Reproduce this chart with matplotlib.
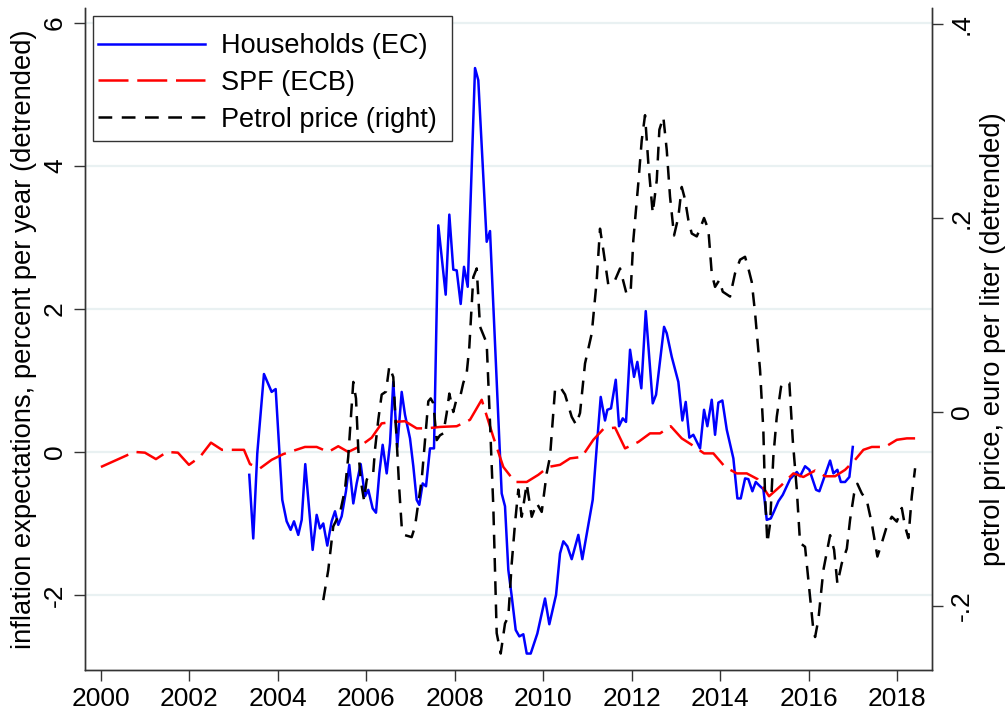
import matplotlib
matplotlib.use("Agg")
import matplotlib.pyplot as plt
from matplotlib.patches import Rectangle

plt.rcParams['font.family'] = ['Liberation Sans', 'DejaVu Sans']

# ---------------- data ----------------
# Households (EC) inflation expectations, detrended (left axis)
hh_year = [2003.354, 2003.444, 2003.535, 2003.686, 2003.860, 2003.951, 2004.100, 2004.199,
           2004.290, 2004.365, 2004.462, 2004.539, 2004.620, 2004.787, 2004.878, 2004.953,
           2005.027, 2005.118, 2005.217, 2005.292, 2005.366, 2005.443, 2005.540, 2005.615,
           2005.706, 2005.782, 2005.873, 2005.970, 2006.045, 2006.144, 2006.219, 2006.294,
           2006.370, 2006.461, 2006.536, 2006.610, 2006.701, 2006.800, 2006.875, 2006.988,
           2007.063, 2007.139, 2007.198, 2007.275, 2007.350, 2007.440, 2007.531, 2007.628,
           2007.795, 2007.877, 2007.967, 2008.044, 2008.134, 2008.209, 2008.293, 2008.458,
           2008.532, 2008.722, 2008.797, 2009.061, 2009.136, 2009.211, 2009.288, 2009.378,
           2009.460, 2009.550, 2009.627, 2009.717, 2009.867, 2010.041, 2010.138, 2010.290,
           2010.380, 2010.455, 2010.545, 2010.644, 2010.794, 2010.884, 2011.020, 2011.119,
           2011.210, 2011.300, 2011.397, 2011.450, 2011.533, 2011.640, 2011.714, 2011.798,
           2011.872, 2011.963, 2012.053, 2012.128, 2012.218, 2012.318, 2012.476, 2012.551,
           2012.732, 2012.793, 2012.906, 2013.055, 2013.146, 2013.222, 2013.304, 2013.394,
           2013.546, 2013.636, 2013.711, 2013.810, 2013.885, 2013.960, 2014.050, 2014.150,
           2014.299, 2014.390, 2014.466, 2014.564, 2014.638, 2014.729, 2014.805, 2014.903,
           2014.977, 2015.054, 2015.145, 2015.219, 2015.317, 2015.416, 2015.581, 2015.733,
           2015.807, 2015.920, 2016.018, 2016.169, 2016.244, 2016.486, 2016.561, 2016.651,
           2016.728, 2016.825, 2016.922, 2016.999]
hh_val = [-0.32, -1.21, -0.02, 1.09, 0.84, 0.88, -0.67, -0.97,
          -1.09, -0.97, -1.16, -0.95, -0.17, -1.37, -0.88, -1.07,
          -1.00, -1.31, -0.97, -0.83, -1.02, -0.90, -0.55, -0.18,
          -0.72, -0.44, -0.17, -0.62, -0.53, -0.79, -0.85, -0.30,
          0.10, -0.30, 0.12, 0.98, 0.07, 0.84, 0.52, 0.19,
          -0.20, -0.67, -0.74, -0.44, -0.48, 0.05, 0.05, 3.17,
          2.20, 3.32, 2.55, 2.54, 2.07, 2.59, 2.31, 5.37,
          5.20, 2.94, 3.09, -0.58, -0.76, -1.65, -2.02, -2.49,
          -2.58, -2.55, -2.82, -2.82, -2.54, -2.05, -2.41, -2.00,
          -1.42, -1.25, -1.32, -1.50, -1.16, -1.50, -1.02, -0.67,
          0.07, 0.77, 0.44, 0.59, 0.61, 1.01, 0.36, 0.47,
          0.42, 1.43, 1.05, 1.26, 0.89, 1.97, 0.68, 0.80,
          1.75, 1.66, 1.33, 0.98, 0.44, 0.70, 0.20, 0.24,
          0.05, 0.59, 0.36, 0.73, 0.24, 0.69, 0.72, 0.31,
          -0.09, -0.65, -0.65, -0.37, -0.38, -0.55, -0.42, -0.48,
          -0.52, -0.95, -0.93, -0.83, -0.69, -0.60, -0.38, -0.28,
          -0.34, -0.20, -0.25, -0.53, -0.55, -0.12, -0.30, -0.25,
          -0.42, -0.42, -0.35, 0.07]

# SPF (ECB) inflation expectations, detrended (left axis)
spf_year = [2000.000, 2000.611, 2000.769, 2000.995, 2001.244, 2001.493, 2001.741, 2001.990,
            2002.239, 2002.488, 2002.736, 2002.985, 2003.234, 2003.370, 2003.596, 2003.860,
            2004.123, 2004.613, 2004.878, 2005.140, 2005.366, 2005.592, 2005.857, 2006.122,
            2006.348, 2006.610, 2006.875, 2007.139, 2007.365, 2007.666, 2008.044, 2008.345,
            2008.609, 2008.871, 2009.098, 2009.362, 2009.627, 2009.889, 2010.115, 2010.380,
            2010.606, 2010.871, 2011.133, 2011.359, 2011.624, 2011.850, 2012.151, 2012.415,
            2012.641, 2012.883, 2013.132, 2013.358, 2013.636, 2013.847, 2014.111, 2014.376,
            2014.602, 2014.846, 2015.106, 2015.378, 2015.656, 2015.882, 2016.147, 2016.373,
            2016.599, 2016.825, 2017.051, 2017.239, 2017.429, 2017.730, 2017.995, 2018.221,
            2018.408]
spf_val = [-0.21, -0.04, 0.00, -0.01, -0.10, 0.00, -0.01, -0.18,
           -0.07, 0.13, 0.03, 0.03, 0.03, -0.17, -0.23, -0.11,
           -0.03, 0.07, 0.07, 0.00, 0.08, 0.00, 0.08, 0.20,
           0.40, 0.42, 0.43, 0.33, 0.33, 0.35, 0.36, 0.45,
           0.73, 0.21, -0.21, -0.42, -0.42, -0.32, -0.21, -0.18,
           -0.09, -0.07, 0.17, 0.32, 0.34, 0.05, 0.14, 0.26,
           0.26, 0.36, 0.19, 0.10, -0.02, -0.02, -0.21, -0.30,
           -0.30, -0.38, -0.62, -0.47, -0.30, -0.35, -0.26, -0.34,
           -0.34, -0.25, -0.11, 0.03, 0.07, 0.07, 0.17, 0.19,
           0.19]

# Petrol price, euro per liter, detrended (right axis)
pet_year = [2005.027, 2005.140, 2005.253, 2005.405, 2005.518, 2005.592, 2005.669, 2005.706,
            2005.767, 2005.819, 2005.873, 2005.948, 2006.009, 2006.083, 2006.158, 2006.196,
            2006.271, 2006.348, 2006.445, 2006.520, 2006.610, 2006.687, 2006.746, 2006.800,
            2006.875, 2007.026, 2007.101, 2007.175, 2007.252, 2007.327, 2007.402, 2007.456,
            2007.515, 2007.592, 2007.666, 2007.741, 2007.818, 2007.877, 2007.967, 2008.044,
            2008.134, 2008.193, 2008.270, 2008.329, 2008.419, 2008.496, 2008.571, 2008.722,
            2008.797, 2008.872, 2008.948, 2009.039, 2009.136, 2009.211, 2009.288, 2009.362,
            2009.437, 2009.514, 2009.627, 2009.740, 2009.853, 2009.966, 2010.079, 2010.154,
            2010.267, 2010.380, 2010.493, 2010.644, 2010.742, 2010.832, 2010.945, 2011.097,
            2011.210, 2011.284, 2011.359, 2011.472, 2011.624, 2011.737, 2011.888, 2011.979,
            2012.037, 2012.150, 2012.227, 2012.302, 2012.377, 2012.476, 2012.567, 2012.626,
            2012.716, 2012.793, 2012.867, 2012.958, 2013.055, 2013.132, 2013.207, 2013.281,
            2013.358, 2013.471, 2013.546, 2013.636, 2013.734, 2013.810, 2013.885, 2013.982,
            2014.059, 2014.224, 2014.337, 2014.450, 2014.563, 2014.638, 2014.715, 2014.790,
            2014.903, 2014.977, 2015.016, 2015.068, 2015.129, 2015.203, 2015.280, 2015.377,
            2015.468, 2015.565, 2015.642, 2015.733, 2015.807, 2015.920, 2015.995, 2016.108,
            2016.147, 2016.221, 2016.334, 2016.486, 2016.576, 2016.651, 2016.750, 2016.864,
            2016.938, 2017.029, 2017.103, 2017.203, 2017.315, 2017.429, 2017.555, 2017.655,
            2017.767, 2017.881, 2017.994, 2018.107, 2018.181, 2018.256, 2018.333, 2018.408]
pet_val = [-0.194, -0.163, -0.118, -0.104, -0.080, -0.046, 0.005, 0.031,
           0.014, -0.039, -0.070, -0.091, -0.070, -0.063, -0.062, -0.039,
           -0.008, 0.018, 0.021, 0.047, 0.036, -0.029, -0.080, -0.118,
           -0.127, -0.129, -0.118, -0.094, -0.070, -0.029, 0.011, 0.014,
           0.009, -0.029, -0.024, -0.022, -0.001, 0.019, 0.000, 0.014,
           0.018, 0.030, 0.040, 0.067, 0.139, 0.148, 0.088, 0.071,
           -0.011, -0.098, -0.228, -0.249, -0.218, -0.211, -0.156, -0.115,
           -0.080, -0.108, -0.074, -0.108, -0.094, -0.103, -0.063, -0.046,
           0.023, 0.026, 0.018, -0.005, -0.013, -0.001, 0.050, 0.081,
           0.136, 0.189, 0.167, 0.131, 0.136, 0.148, 0.121, 0.126,
           0.177, 0.236, 0.280, 0.306, 0.256, 0.205, 0.239, 0.291,
           0.304, 0.270, 0.222, 0.182, 0.201, 0.232, 0.219, 0.198,
           0.184, 0.181, 0.189, 0.200, 0.188, 0.143, 0.129, 0.136,
           0.124, 0.119, 0.143, 0.157, 0.160, 0.148, 0.134, 0.102,
           0.043, -0.019, -0.087, -0.135, -0.115, -0.046, -0.005, 0.026,
           0.031, 0.030, -0.029, -0.080, -0.135, -0.139, -0.173, -0.225,
           -0.232, -0.214, -0.163, -0.127, -0.142, -0.177, -0.156, -0.141,
           -0.111, -0.084, -0.074, -0.084, -0.091, -0.115, -0.149, -0.135,
           -0.118, -0.108, -0.113, -0.099, -0.118, -0.130, -0.087, -0.058]

x_ticks = list(range(2000, 2019, 2))
left_ticks = [-2, 0, 2, 4, 6]
right_ticks = [-0.2, 0, 0.2, 0.4]
right_ticklabels = ['-.2', '0', '.2', '.4']

labels = ['Households (EC)', 'SPF (ECB)', 'Petrol price (right)']

# ---------------- figure ----------------
W, H = 1007, 719
fig = plt.figure(figsize=(W / 100, H / 100), dpi=100)
ax = fig.add_axes([85 / W, 1 - 670 / H, (932 - 85) / W, (670 - 8) / H])
ax2 = ax.twinx()

fs_tick = 19
fs_lab = 19.7
grid_c = '#e9f1f2'
for t in left_ticks:
    ax.axhline(t, color=grid_c, lw=1.6, zorder=0)

l1, = ax.plot(hh_year, hh_val, color='#0000ff', lw=1.8, zorder=3)
l2, = ax.plot(spf_year, spf_val, color='#ff0000', lw=1.8,
              linestyle=(0, (12, 3.5)), zorder=3)
l3, = ax2.plot(pet_year, pet_val, color='black', lw=1.8,
               linestyle=(0, (5.5, 3.8)), zorder=3)

ax.set_xlim(1999.64, 2018.79)
ax.set_ylim(-3.05, 6.21)
ax2.set_ylim(-0.266, 0.4165)

ax.set_xticks(x_ticks)
ax.set_yticks(left_ticks)
ax.set_yticklabels([str(t) for t in left_ticks], rotation=90, va='center')
ax2.set_yticks(right_ticks)
ax2.set_yticklabels(right_ticklabels, rotation=90, va='center')

for a in (ax, ax2):
    a.spines['top'].set_visible(False)
    for s in a.spines.values():
        s.set_linewidth(1.0)
        s.set_color('#333333')
ax.tick_params(axis='both', labelsize=fs_tick, length=8, width=1.0, color='#333333')
ax.tick_params(axis='x', pad=4)
ax.tick_params(axis='y', pad=5)
ax2.tick_params(axis='y', labelsize=fs_tick, length=8, width=1.0, color='#333333', pad=5)

ax.set_ylabel('inflation expectations, percent per year (detrended)', fontsize=fs_lab, labelpad=4)
ax2.set_ylabel('petrol price, euro per liter (detrended)', fontsize=fs_lab, labelpad=4)

# legend (frame drawn separately to match the reference padding)
leg = fig.legend([l1, l2, l3], labels, loc='upper left',
                 bbox_to_anchor=(98 / W, 1 - 33 / H), borderaxespad=0, borderpad=0,
                 fontsize=19.5, frameon=False, handlelength=3.95,
                 handletextpad=0.6, labelspacing=0.40)
fig.patches.append(Rectangle((93 / W, 1 - 141 / H), (452 - 93) / W, (141 - 16) / H,
                             transform=fig.transFigure, fill=True, facecolor='white',
                             edgecolor='#333333', lw=1.0, zorder=5))
leg.set_zorder(6)

fig.savefig('out.png', dpi=100)
